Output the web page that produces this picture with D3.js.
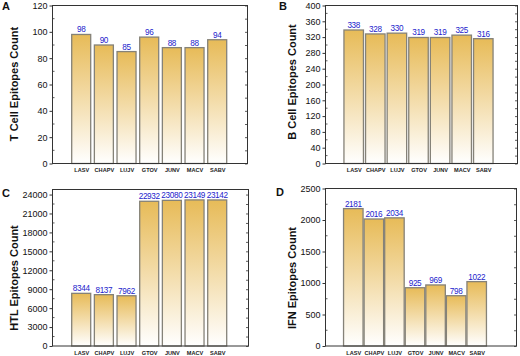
<!DOCTYPE html>
<html><head><meta charset="utf-8">
<script src="https://cdn.jsdelivr.net/npm/d3@7"></script>
<style>
html,body{margin:0;padding:0;background:#fff;}
svg{display:block;font-family:"Liberation Sans",Arial,sans-serif;}
</style></head>
<body>
<svg id="chart" width="520" height="356"></svg>
<script>
const categories = ["LASV","CHAPV","LUJV","GTOV","JUNV","MACV","SABV"];
const tCellCounts = [98,90,85,96,88,88,94];
const bCellCounts = [338,328,330,319,319,325,316];
const htlCounts = [8344,8137,7962,22932,23080,23149,23142];
const ifnCounts = [2181,2016,2034,925,969,798,1022];
const tCellTicks = [0,20,40,60,80,100,120];
const bCellTicks = [0,40,80,120,160,200,240,280,320,360,400];
const htlTicks = [0,3000,6000,9000,12000,15000,18000,21000,24000];
const ifnTicks = [0,500,1000,1500,2000,2500];

const panels = [
  {id:"A", title:"T Cell Epitopes Count", values:tCellCounts, ticks:tCellTicks, ymax:120,
   left:52.5, right:247.5, top:5.5, bottom:163.5, c0:81.2, c6:217.2, bw:19,
   tx:15, ty:84, lx:2, ly:10},
  {id:"B", title:"B Cell Epitopes Count", values:bCellCounts, ticks:bCellTicks, ymax:400,
   left:325.5, right:517.5, top:5.5, bottom:163.5, c0:353.7, c6:483.3, bw:19.5,
   tx:293, ty:82, lx:279, ly:10},
  {id:"C", title:"HTL Epitopes Count", values:htlCounts, ticks:htlTicks, ymax:24800,
   left:52.5, right:248.5, top:189.5, bottom:346, c0:81.2, c6:217.2, bw:19,
   tx:15, ty:278, lx:2, ly:197},
  {id:"D", title:"IFN Epitopes Count", values:ifnCounts, ticks:ifnTicks, ymax:2500,
   left:325.5, right:516.5, top:188.5, bottom:346, c0:353.3, c6:476.7, bw:19.5,
   tx:293, ty:278, lx:276, ly:196}
];

const svg = d3.select("#chart");
const defs = svg.append("defs");
const grad = defs.append("linearGradient").attr("id","gold")
  .attr("x1",0).attr("y1",0).attr("x2",0).attr("y2",1);
grad.append("stop").attr("offset","0%").attr("stop-color","#e7bb58");
grad.append("stop").attr("offset","45%").attr("stop-color","#f2d9a2");
grad.append("stop").attr("offset","100%").attr("stop-color","#ffffff");

panels.forEach(p => {
  const g = svg.append("g");
  const x = d3.scaleLinear().domain([0,6]).range([p.c0,p.c6]);
  const y = d3.scaleLinear().domain([0,p.ymax]).range([p.bottom,p.top]);
  const step = p.ticks[1]-p.ticks[0];
  const minor = d3.range(step/2, p.ymax, step).filter(v => !p.ticks.includes(v));

  // bars
  g.selectAll("rect.bar").data(p.values).join("rect")
    .attr("class","bar")
    .attr("x",(d,i)=>x(i)-p.bw/2)
    .attr("width",p.bw)
    .attr("y",d=>y(d))
    .attr("height",d=>p.bottom-y(d))
    .attr("fill","url(#gold)")
    .attr("stroke","#858278")
    .attr("stroke-width",1.3);

  // value labels
  g.selectAll("text.val").data(p.values).join("text")
    .attr("class","val")
    .attr("x",(d,i)=>x(i))
    .attr("y",d=>y(d)-2)
    .attr("text-anchor","middle")
    .attr("font-size",8.2)
    .attr("letter-spacing",-0.35)
    .attr("fill","#2323cc")
    .text(d=>d);

  // left axis
  const la = d3.axisLeft(y).tickValues(p.ticks).tickSize(3).tickPadding(2).tickFormat(d3.format("d"));
  const lg = g.append("g").attr("transform",`translate(${p.left},0)`).call(la);
  lg.select(".domain").remove();
  lg.selectAll("text").attr("font-size",9).attr("fill","#111").attr("font-family","Liberation Sans, Arial, sans-serif");
  lg.selectAll("line").attr("stroke","#333");
  // minor ticks left (inward)
  g.selectAll("line.minl").data(minor).join("line")
    .attr("x1",p.left).attr("x2",p.left+2).attr("y1",d=>y(d)).attr("y2",d=>y(d))
    .attr("stroke","#333").attr("stroke-width",0.8);
  // right axis ticks inward
  const ra = d3.axisRight(y).tickValues(p.ticks.concat(minor)).tickSize(-2.5).tickFormat("");
  const rg = g.append("g").attr("transform",`translate(${p.right},0)`).call(ra);
  rg.select(".domain").remove();
  rg.selectAll("line").attr("stroke","#333").attr("stroke-width",0.8);

  // frame
  g.append("rect").attr("x",p.left).attr("y",p.top)
    .attr("width",p.right-p.left).attr("height",p.bottom-p.top)
    .attr("fill","none").attr("stroke","#333").attr("stroke-width",1);

  // category labels
  const xa = d3.axisBottom(x).tickValues(d3.range(categories.length)).tickSize(0).tickPadding(5)
    .tickFormat(i=>categories[i]);
  const xg = g.append("g").attr("transform",`translate(0,${p.bottom})`).call(xa);
  xg.select(".domain").remove();
  xg.selectAll("text").attr("font-size",5.6).attr("font-weight","bold").attr("fill","#222")
    .attr("font-family","Liberation Sans, Arial, sans-serif");

  // y title
  g.append("text").attr("transform",`translate(${p.tx},${p.ty}) rotate(-90)`)
    .attr("text-anchor","middle").attr("dominant-baseline","middle")
    .attr("font-size",11).attr("font-weight","bold").attr("fill","#111")
    .text(p.title);

  // panel letter
  g.append("text").attr("x",p.lx).attr("y",p.ly)
    .attr("font-size",11).attr("font-weight","bold").attr("fill","#111")
    .text(p.id);
});
</script>
</body></html>
